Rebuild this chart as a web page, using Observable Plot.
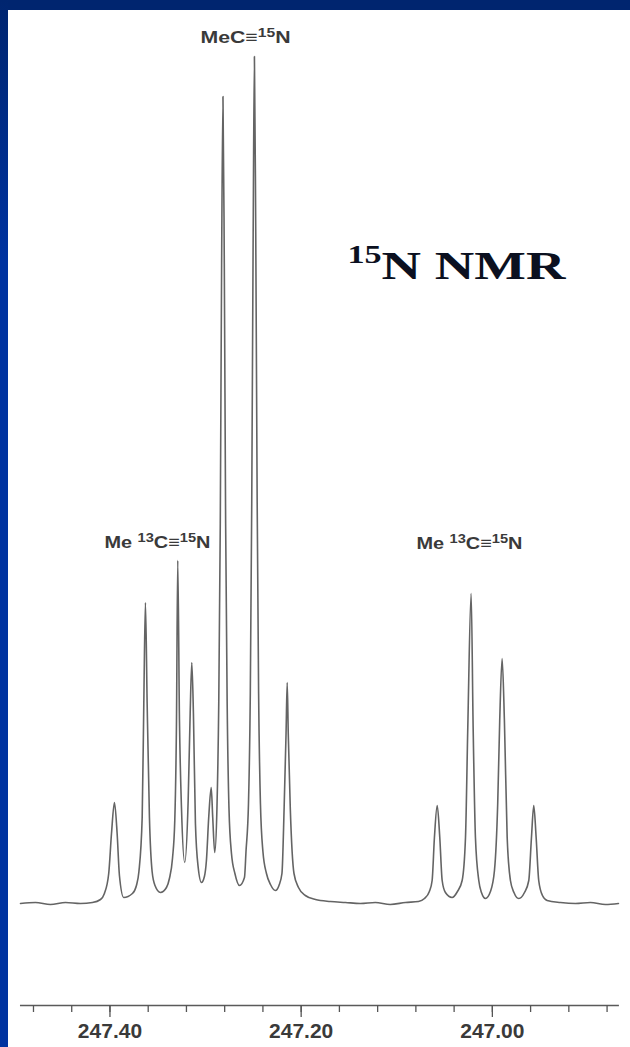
<!DOCTYPE html>
<html><head><meta charset="utf-8">
<script src="https://cdn.jsdelivr.net/npm/d3@7"></script>
<script src="https://cdn.jsdelivr.net/npm/@observablehq/plot@0.6"></script>
<style>
html,body{margin:0;padding:0;background:#fff;}
#wrap{position:relative;width:630px;height:1047px;overflow:hidden;background:#fff;}
#wrap svg{position:absolute;left:0;top:0;}
.band-top{position:absolute;left:0;top:0;width:630px;height:10px;background:#00256f;}
.band-left{position:absolute;left:0;top:0;width:8px;height:1047px;background:linear-gradient(#00256f,#0033a0 25%,#0033a0);}
</style></head>
<body><div id="wrap"><div class="band-top"></div><div class="band-left"></div></div>
<script>
// 15N NMR spectrum, chemical shift (ppm) vs. intensity (a.u.)
const spectrum = [
  [247.4936, 0], [247.4779, 1], [247.4622, -1], [247.4465, 1], [247.4309, 0], [247.4183, 1], [247.4099, 4], [247.4058, 10],
  [247.4013, 30], [247.3984, 70], [247.3953, 101], [247.3925, 70], [247.3901, 28], [247.3856, 6],
  [247.3765, 10], [247.3723, 18], [247.3697, 32], [247.3663, 86], [247.3646, 200], [247.3629, 301], [247.3611, 200], [247.3587, 86], [247.3559, 32], [247.3529, 18], [247.3472, 11],
  [247.3409, 16], [247.3378, 25], [247.3346, 45], [247.3322, 83], [247.3304, 183], [247.3291, 343], [247.3273, 183], [247.3252, 96], [247.3218, 41],
  [247.3182, 103], [247.3161, 190], [247.3144, 241], [247.3127, 190], [247.3106, 80], [247.3077, 36], [247.3043, 21],
  [247.3012, 27], [247.2991, 43], [247.2967, 86], [247.2941, 116], [247.2925, 86], [247.2904, 51],
  [247.2881, 95], [247.2862, 200], [247.2846, 380], [247.2832, 640], [247.2818, 807], [247.2804, 640], [247.2790, 380], [247.2774, 200], [247.2755, 95], [247.2729, 50], [247.2693, 30], [247.2645, 18],
  [247.2593, 26], [247.2577, 52], [247.2551, 100], [247.2532, 210], [247.2517, 400], [247.2502, 670], [247.2489, 847], [247.2475, 670], [247.2460, 400], [247.2445, 210], [247.2426, 100], [247.2400, 52], [247.2363, 30], [247.2321, 19], [247.2269, 13],
  [247.2232, 18], [247.2201, 30], [247.2178, 96], [247.2158, 170], [247.2146, 221], [247.2135, 170], [247.2114, 96], [247.2075, 30], [247.2028, 16], [247.1956, 8], [247.1850, 4], [247.1695, 2],
  [247.1537, 1], [247.1380, 0], [247.1224, 1], [247.1068, -1], [247.0909, 1], [247.0773, 2],
  [247.0710, 5], [247.0659, 12], [247.0630, 23], [247.0606, 66], [247.0577, 98], [247.0550, 66], [247.0525, 23], [247.0491, 11], [247.0421, 6],
  [247.0365, 12], [247.0316, 23], [247.0281, 66], [247.0257, 176], [247.0222, 310], [247.0201, 176], [247.0177, 66], [247.0142, 23], [247.0114, 11], [247.0072, 5],
  [247.0020, 12], [246.9978, 33], [246.9944, 100], [246.9923, 183], [246.9898, 245], [246.9874, 183], [246.9845, 66], [246.9811, 23], [246.9774, 11], [246.9724, 5],
  [246.9664, 11], [246.9619, 23], [246.9591, 66], [246.9567, 98], [246.9542, 66], [246.9515, 23], [246.9476, 8], [246.9427, 3],
  [246.9288, 1], [246.9131, 0], [246.8974, 1], [246.8817, -1], [246.8681, 0]
];

// axis ticks (ppm)
const minorTicks = [247.48, 247.44, 247.40, 247.36, 247.32, 247.28, 247.24, 247.20, 247.16, 247.12, 247.08, 247.04, 247.00, 246.96, 246.92, 246.88];
const majorTicks = [247.40, 247.20, 247.00];
const axisExtent = [247.4936, 246.8671];

// peak annotations ("^n" marks a superscript)
const labelText = ["MeC≡^15N", "Me ^13C≡^15N", "Me ^13C≡^15N"];
const labelPpm = [247.3053, 247.4058, 247.0794];
const labelIntensity = [861, 356, 355];

const titleText = ["^15N NMR"];
const titlePpm = [247.1516];
const titleIntensity = [625];

// scale domains
const xDomain = [247.5145, 246.8555];
const yDomain = [-102, 903];

const labelWidths = [90, 106, 106, 218];

const svg = Plot.plot({
  width: 630, height: 1047,
  marginTop: 0, marginRight: 0, marginBottom: 42, marginLeft: 0,
  style: {background: "white", fontFamily: "'Liberation Sans', Arial, sans-serif", overflow: "visible"},
  x: {domain: xDomain, label: null},
  y: {domain: yDomain, axis: null},
  marks: [
    Plot.ruleY([yDomain[0]], {x1: axisExtent[0], x2: axisExtent[1], stroke: "#5a5a5a", strokeWidth: 1.4}),
    Plot.axisX(minorTicks, {anchor: "bottom", tickSize: 7, tickFormat: () => "", stroke: "#555", strokeWidth: 1.3, label: null}),
    Plot.axisX(majorTicks, {anchor: "bottom", tickSize: 12, tickPadding: 6, tickFormat: d => d.toFixed(2), fontSize: 21, fontWeight: "bold", fill: "#3a3a3a", stroke: "#555", strokeWidth: 1.3, label: null}),
    Plot.line(spectrum, {x: d => d[0], y: d => d[1], curve: "monotone-x", stroke: "#646464", strokeWidth: 1.6}),
    Plot.text(labelText, {x: labelPpm, y: labelIntensity, text: labelText, textAnchor: "start", lineAnchor: "bottom", fontSize: 17, fontWeight: "bold", fill: "#3a3a3a"}),
    Plot.text(titleText, {x: titlePpm, y: titleIntensity, text: titleText, textAnchor: "start", lineAnchor: "bottom", fontSize: 40, fontWeight: "bold", fontFamily: "'Liberation Serif', 'Times New Roman', serif", fill: "#0b1020"})
  ]
});
document.getElementById("wrap").prepend(svg);

// turn "^n" markers into superscript tspans, then fit widths
const NS = "http://www.w3.org/2000/svg";
const rich = Array.from(svg.querySelectorAll("text")).filter(t => t.textContent.includes("^"));
rich.forEach((t, i) => {
  const isTitle = i === rich.length - 1;
  const supSize = isTitle ? 25 : 12.5;
  const rise = isTitle ? 16 : 5.5;
  const parts = t.textContent.split(/\^(\d+)/);
  t.textContent = "";
  let raised = false;
  parts.forEach((p, k) => {
    if (p === "") return;
    const ts = document.createElementNS(NS, "tspan");
    ts.textContent = p;
    if (k % 2 === 1) { ts.setAttribute("font-size", supSize); ts.setAttribute("dy", -rise); raised = true; }
    else if (raised) { ts.setAttribute("dy", rise); raised = false; }
    t.appendChild(ts);
  });
  t.setAttribute("textLength", labelWidths[i]);
  t.setAttribute("lengthAdjust", "spacingAndGlyphs");
});
</script>
</body></html>
